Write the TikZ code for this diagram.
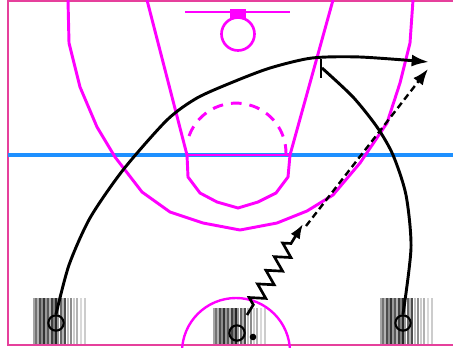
\documentclass[tikz,border=0pt]{standalone}
\usepackage{tikz}
\usetikzlibrary{arrows.meta,decorations.pathmorphing}
\definecolor{courtline}{HTML}{FF00FF}
\definecolor{courtedge}{HTML}{E6409C}
\definecolor{midline}{HTML}{1E90FF}
\tikzstyle{court} = [draw=courtline, line width=2.2pt]
\tikzstyle{player} = [draw, shape=circle, line width=1.6pt, minimum size=11.5pt, inner sep=0pt]
\tikzstyle{cut} = [line width=2.2pt, -{Latex[length=13pt,width=9pt]}]
\tikzstyle{screenpath} = [line width=2.2pt]
\tikzstyle{pass} = [line width=1.8pt, dash pattern=on 5pt off 3pt, -{Latex[length=12pt,width=9pt]}]
\tikzstyle{dribble} = [line width=2pt, decorate, -{Latex[length=11pt,width=8pt]},
  decoration={zigzag, amplitude=5.5pt, segment length=12pt, pre length=9pt, post length=13pt}]
% grey stripes behind the players
\newcommand{\standstripes}[3]{%
  \foreach \dx/\g in {0/35,2/55,4/30,6/70,8/45,10/80,12/40,14/65,16/30,18/75,20/50,
      22/85,24/40,27/60,29/30,31/70,34/25,37/45,40/20,43/30,47/15,51/20}
    \draw[black!\g, line width=0.8pt] (#1+\dx,#2) -- (#1+\dx,#3);}

\begin{document}
\begin{tikzpicture}[x=0.75pt, y=-0.75pt]
    \useasboundingbox (0,0) rectangle (453,347);
    \standstripes{34}{298}{345}
    \standstripes{214}{308}{345}
    \standstripes{381}{298}{345}
    % court
    \draw[courtedge, line width=1.2pt] (460,1) -- (8,1) -- (8,345) -- (460,345);
    \draw[midline, line width=2.4pt] (8,155) -- (460,155);
    \draw[court] (147,0) -- (187,155) -- (188,177) -- (200,193) -- (217,202) -- (238,208)
      -- (258,202) -- (276,193) -- (288,177) -- (290,155) -- (333,0);
    \draw[court] (187,155) -- (290,155);
    \draw[court, dash pattern=on 8pt off 6pt] (189,136) arc[start angle=200, end angle=365, radius=50];
    \draw[court] (68,0) -- (69,43) -- (80,87) -- (97,127) -- (115,157) -- (142,192) -- (170,212)
      -- (203,223) -- (240,230) -- (277,223) -- (307,211) -- (333,195) -- (360,163)
      -- (387,123) -- (400,83) -- (410,43) -- (413,0);
    \draw[court] (185,12) -- (290,12);
    \fill[courtline] (230,9) rectangle (246,19);
    \draw[court, line width=2pt] (238,34) circle [radius=16.5];
    \draw[court, line width=1.8pt] (236,352) circle [radius=54];
    % players
    \node[player] (lw) at (56,323) {};
    \node[player] (pg) at (237,333) {};
    \node[player] (rw) at (403,323) {};
    \fill (253,337) circle [radius=3.3];
    \coordinate (drb) at (247,315);
    \coordinate (dre) at (303,224);
    \coordinate (pss) at (306,226);
    \coordinate (psd) at (428,69);
    \coordinate (scr) at (322,68);
    % movement
    \draw[cut] plot[smooth, tension=0.45] coordinates {(lw.north) (69,265) (90,218) (123,170)
      (167,120) (197,98) (233,82) (270,68) (312,58) (360,57) (429,62)};
    \draw[screenpath] plot[smooth, tension=0.45] coordinates {(rw.north) (411,248) (406,195)
      (393,155) (377,127) (353,97) (scr)};
    \draw[screenpath] (scr) ++(-1,-9) -- ++(0,19);
    \draw[dribble] (drb) -- (dre);
    \draw[pass] (pss) -- (psd);
\end{tikzpicture}
\end{document}
